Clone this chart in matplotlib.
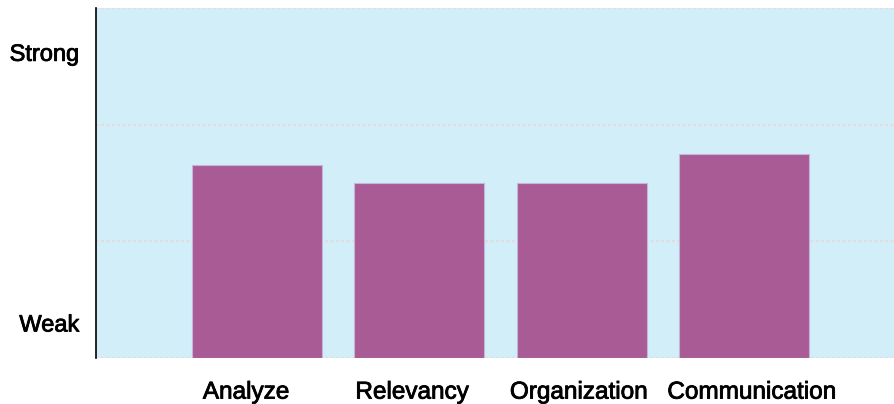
import matplotlib.pyplot as plt
import matplotlib.patheffects as pe
from matplotlib.transforms import ScaledTranslation

# skill ratings per category
categories = ['Analyze', 'Relevancy', 'Organization', 'Communication']
scores = [1.65, 1.50, 1.50, 1.75]

# qualitative labels on the y axis
level_labels = ['Weak', 'Strong']
level_values = [0.3, 2.62]
grid_values = [0, 1, 2, 3]


def main():
    plt.rcParams['font.family'] = ['Liberation Sans', 'DejaVu Sans']

    fig = plt.figure(figsize=(8.94, 4.04), dpi=100)
    ax = fig.add_axes([0.1074, 0.1139, 0.8926, 0.8663])
    ax.set_facecolor('#d2eef9')

    for g in grid_values:
        ax.axhline(g, color='#e4dcdc', linestyle=(0, (1.2, 1.2)), linewidth=1.6, zorder=1)

    positions = range(len(categories))
    ax.bar(positions, scores, width=0.8, color='#a95b95',
           edgecolor='#c6b6d6', linewidth=0.8, zorder=2)

    ax.set_xlim(-0.99, 3.92)
    ax.set_ylim(0, 3)
    ax.set_xticks(list(positions))
    ax.set_xticklabels(categories, fontsize=17.5)
    ax.set_yticks(level_values)
    ax.set_yticklabels(level_labels, fontsize=17)
    ax.tick_params(axis='both', length=0)
    ax.tick_params(axis='x', pad=17)
    ax.tick_params(axis='y', pad=12)

    # slightly heavier text, like the original rendering
    thick = [pe.withStroke(linewidth=0.6, foreground='black')]
    for lbl in ax.get_xticklabels() + ax.get_yticklabels():
        lbl.set_path_effects(thick)

    # the original labels sit a little off the bar centres
    shifts_px = [-11, -7.5, -3.5, 7]
    for lbl, dx in zip(ax.get_xticklabels(), shifts_px):
        lbl.set_transform(lbl.get_transform() + ScaledTranslation(dx / 100, 0, fig.dpi_scale_trans))

    for side in ['top', 'right', 'bottom']:
        ax.spines[side].set_visible(False)
    ax.spines['left'].set_color('black')
    ax.spines['left'].set_linewidth(1.2)

    fig.savefig('out.png', dpi=100)


if __name__ == "__main__":
    main()
